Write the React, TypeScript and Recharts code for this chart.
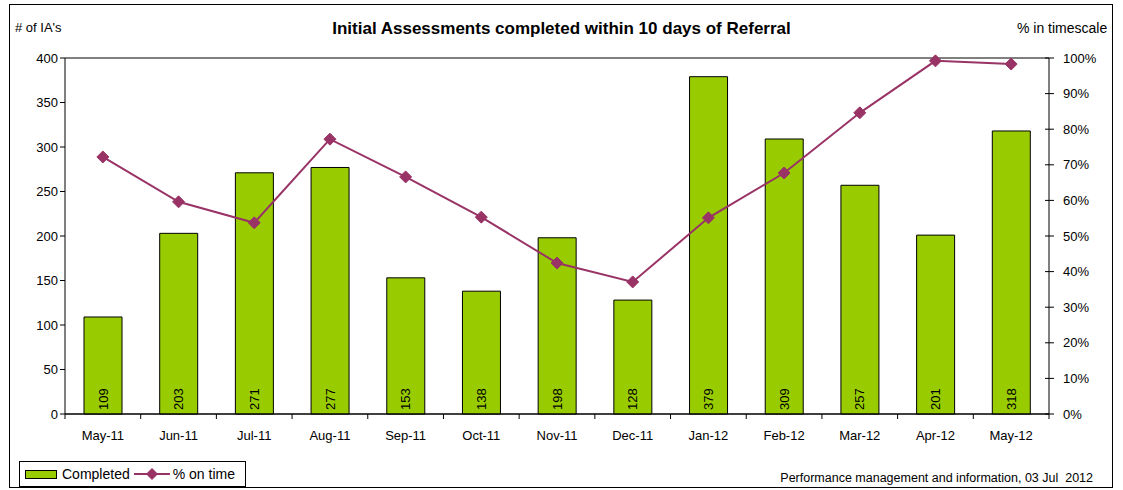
import React from 'react';
import {
  ComposedChart,
  Bar,
  Line,
  XAxis,
  YAxis,
  CartesianGrid,
  LabelList
} from 'recharts';

const months = ['May-11', 'Jun-11', 'Jul-11', 'Aug-11', 'Sep-11', 'Oct-11', 'Nov-11', 'Dec-11', 'Jan-12', 'Feb-12', 'Mar-12', 'Apr-12', 'May-12'];
const completed = [109, 203, 271, 277, 153, 138, 198, 128, 379, 309, 257, 201, 318];
const onTime = [72.2, 59.6, 53.7, 77.2, 66.6, 55.3, 42.4, 37.1, 55.1, 67.7, 84.6, 99.2, 98.3];
const leftTicks = [0, 50, 100, 150, 200, 250, 300, 350, 400];
const rightTicks = [0, 10, 20, 30, 40, 50, 60, 70, 80, 90, 100];

const data = months.map((m, i) => ({ month: m, completed: completed[i], onTime: onTime[i] }));

const FONT = '"Liberation Sans", Arial, sans-serif';
const GREEN = '#99CC00';
const PLUM = '#993366';
const PLOT_LEFT = 65;
const PLOT_RIGHT = 1049;
const PLOT_BOTTOM = 414;

const Diamond = (props: any) => {
  const { cx, cy } = props;
  if (cx == null || cy == null) return null;
  const s = 6;
  return <path d={`M${cx},${cy - s}L${cx + s},${cy}L${cx},${cy + s}L${cx - s},${cy}Z`} fill={PLUM} stroke={PLUM} />;
};

const BarValue = (props: any) => {
  const { x, y, width, height, value } = props;
  const cx = x + width / 2;
  const by = y + height - 4;
  return (
    <text x={cx} y={by} transform={`rotate(-90 ${cx} ${by})`} textAnchor="start" dominantBaseline="central"
      fontSize={13} fontFamily={FONT} fill="#000">
      {value}
    </text>
  );
};

const MonthTick = (props: any) => {
  const { x, y, payload, index } = props;
  const band = (PLOT_RIGHT - PLOT_LEFT) / months.length;
  return (
    <g>
      <line x1={x - band / 2} x2={x - band / 2} y1={PLOT_BOTTOM} y2={PLOT_BOTTOM + 5} stroke="#000" />
      {index === months.length - 1 && <line x1={x + band / 2} x2={x + band / 2} y1={PLOT_BOTTOM} y2={PLOT_BOTTOM + 5} stroke="#000" />}
      <text x={x} y={y + 18} textAnchor="middle" fontSize={13} fontFamily={FONT} fill="#000">{payload.value}</text>
    </g>
  );
};

const PctTick = (props: any) => {
  const { y, payload } = props;
  return (
    <g>
      <line x1={PLOT_RIGHT - 4} x2={PLOT_RIGHT + 5} y1={y} y2={y} stroke="#000" />
      <text x={PLOT_RIGHT + 14} y={y} dominantBaseline="central" fontSize={13} fontFamily={FONT} fill="#000">{`${payload.value}%`}</text>
    </g>
  );
};

const LegendBox = () => (
  <div style={{
    position: 'absolute', left: 19, top: 461,
    border: '1px solid #000', width: 227, height: 26, boxSizing: 'border-box',
    display: 'flex', alignItems: 'center', fontFamily: FONT, fontSize: 14, color: '#000', background: '#fff'
  }}>
    <span style={{ display: 'inline-block', width: 30, height: 7, background: GREEN, border: '1px solid #000', marginLeft: 5 }} />
    <span style={{ marginLeft: 5 }}>Completed</span>
    <svg width={36} height={14} style={{ marginLeft: 4 }}>
      <line x1={0} x2={36} y1={7} y2={7} stroke={PLUM} strokeWidth={2} />
      <path d="M18,1L24,7L18,13L12,7Z" fill={PLUM} />
    </svg>
    <span style={{ marginLeft: 3 }}>% on time</span>
  </div>
);

export default function App() {
  return (
    <div style={{ position: 'fixed', left: 0, top: 0, width: 1123, height: 490, background: '#fff', fontFamily: FONT }}>
      <div style={{ position: 'absolute', left: 9, top: 4, width: 1104, height: 484, border: '1px solid #000', boxSizing: 'border-box' }} />
      <div style={{ position: 'absolute', left: 0, width: 1123, top: 19, textAlign: 'center', fontSize: 17, fontWeight: 'bold' }}>
        Initial Assessments completed within 10 days of Referral
      </div>
      <div style={{ position: 'absolute', left: 15, top: 20, fontSize: 13 }}>#&nbsp;of IA's</div>
      <div style={{ position: 'absolute', left: 1017, top: 20, fontSize: 14 }}>% in timescale</div>
      <div style={{ position: 'absolute', right: 30, top: 471, fontSize: 12.5 }}>Performance management and information, 03 Jul&nbsp; 2012</div>
      <ComposedChart width={1123} height={490} data={data} margin={{ top: 58, right: 14, bottom: 46, left: 15 }}
        style={{ position: 'absolute', left: 0, top: 0 }}>
        <CartesianGrid vertical={false} stroke="#000" />
        <XAxis dataKey="month" tick={<MonthTick />} tickLine={false} axisLine={{ stroke: '#000' }} height={30} interval={0} />
        <YAxis yAxisId="left" domain={[0, 400]} ticks={leftTicks} width={50} axisLine={{ stroke: '#000' }}
          tickLine={{ stroke: '#000' }} tickSize={5} tick={{ fill: '#000', fontSize: 13, fontFamily: FONT }} />
        <YAxis yAxisId="right" orientation="right" domain={[0, 100]} ticks={rightTicks} width={60}
          axisLine={{ stroke: '#000' }} tickLine={false} tick={<PctTick />} />
        <Bar yAxisId="left" dataKey="completed" name="Completed" fill={GREEN} stroke="#000" barSize={38} isAnimationActive={false}>
          <LabelList dataKey="completed" content={<BarValue />} />
        </Bar>
        <Line yAxisId="right" dataKey="onTime" name="% on time" stroke={PLUM} strokeWidth={2} dot={<Diamond />}
          activeDot={false} isAnimationActive={false} />
      </ComposedChart>
      <LegendBox />
    </div>
  );
}
